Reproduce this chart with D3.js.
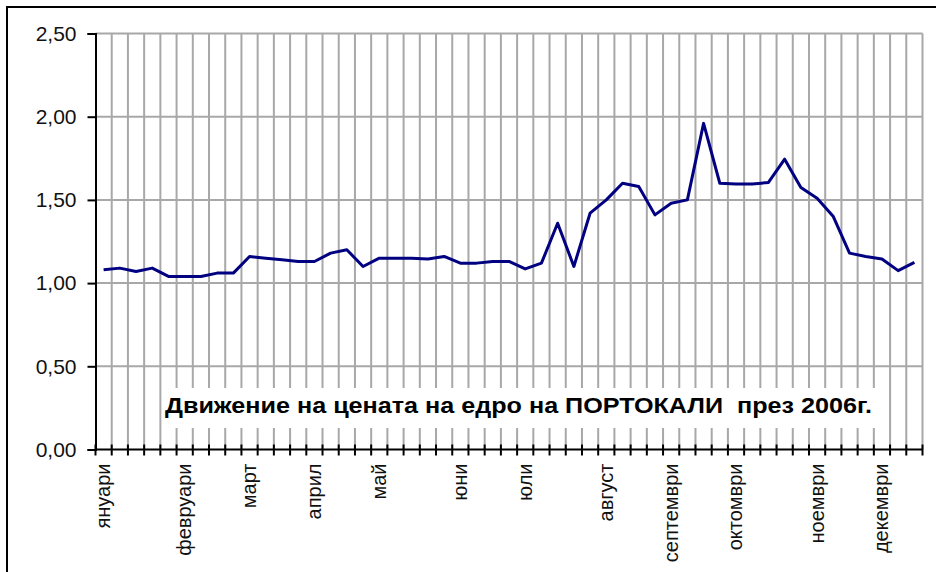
<!DOCTYPE html>
<html>
<head>
<meta charset="utf-8">
<script src="https://cdn.jsdelivr.net/npm/d3@7"></script>
<style>
  html, body { margin: 0; padding: 0; background: #fff; }
  svg { display: block; }
  text { font-family: "Liberation Sans", Arial, sans-serif; }
</style>
</head>
<body>
<svg id="chart" width="936" height="572"></svg>
<script>
// ---- data ----
const categories = [
  "януари","","","","","февруари","","","","март","","","","април","","","","май","","","","","юни","","","","юли","","","","","август","","","","септември","","","","октомври","","","","","ноември","","","","декември","",""
];
const prices = [
  1.08, 1.09, 1.07, 1.09, 1.04, 1.04, 1.04, 1.06, 1.06, 1.16,
  1.15, 1.14, 1.13, 1.13, 1.18, 1.20, 1.10, 1.15, 1.15, 1.15,
  1.145, 1.16, 1.12, 1.12, 1.13, 1.13, 1.085, 1.12, 1.36, 1.10,
  1.42, 1.50, 1.60, 1.58, 1.41, 1.48, 1.50, 1.96, 1.60, 1.595,
  1.595, 1.605, 1.745, 1.575, 1.51, 1.40, 1.18, 1.16, 1.145, 1.075,
  1.125
];
const yTicks = [0, 0.5, 1.0, 1.5, 2.0, 2.5];
const title = "Движение на цената на едро на ПОРТОКАЛИ  през 2006г.";

// ---- layout ----
const svg = d3.select("#chart");
const X0 = 95.5, X1 = 922.5, Y0 = 449.5, Y1 = 33.5;
const idx = d3.range(categories.length);

const band = d3.scaleBand().domain(idx).range([X0, X1]).padding(0);
const x = d3.scalePoint().domain(idx).range([X0, X1]).padding(0.5);
const y = d3.scaleLinear().domain([0, 2.5]).range([Y0, Y1]);

// background
svg.append("rect").attr("x", 0).attr("y", 0).attr("width", 936).attr("height", 572).attr("fill", "#fff");

// outer frame (top & left only visible)
svg.append("path")
  .attr("d", `M7,572 L7,7 L936,7`)
  .attr("fill", "none").attr("stroke", "#000").attr("stroke-width", 2);

const gridColor = "#a8a8a8";
// vertical gridlines at category boundaries
const bounds = idx.map(i => band(i)).concat([X1]);
svg.append("g").selectAll("line").data(bounds.slice(1)).join("line")
  .attr("x1", d => d).attr("x2", d => d)
  .attr("y1", Y1).attr("y2", Y0)
  .attr("stroke", gridColor).attr("stroke-width", 2);
// horizontal gridlines
svg.append("g").selectAll("line").data(yTicks.filter(t => t > 0)).join("line")
  .attr("x1", X0).attr("x2", X1)
  .attr("y1", d => y(d)).attr("y2", d => y(d))
  .attr("stroke", gridColor).attr("stroke-width", 2);

// title box
const tb = svg.append("g");
tb.append("rect").attr("x", 162).attr("y", 388).attr("width", 718).attr("height", 40).attr("fill", "#fff");
tb.append("text")
  .attr("x", 165).attr("y", 413)
  .attr("font-size", 22).attr("font-weight", "bold")
  .attr("fill", "#000")
  .attr("textLength", 707).attr("lengthAdjust", "spacingAndGlyphs")
  .style("white-space", "pre")
  .text(title);

// y axis
const yAxis = d3.axisLeft(y).tickValues(yTicks).tickSize(8).tickPadding(11)
  .tickFormat(d => d3.format(".2f")(d).replace(".", ","));
const gy = svg.append("g").attr("transform", `translate(${X0},0)`).call(yAxis);
gy.select(".domain").attr("stroke", "#000").attr("stroke-width", 2);
gy.selectAll(".tick line").attr("stroke", "#000").attr("stroke-width", 2);
gy.selectAll(".tick text").attr("font-size", 21).attr("fill", "#111")
  .attr("font-family", "'Liberation Sans', Arial, sans-serif");

// x axis line + crossing ticks
const gx = svg.append("g");
gx.append("line").attr("x1", X0).attr("x2", X1).attr("y1", Y0).attr("y2", Y0)
  .attr("stroke", "#000").attr("stroke-width", 2);
gx.selectAll("line.tk").data(bounds).join("line").attr("class", "tk")
  .attr("x1", d => d).attr("x2", d => d)
  .attr("y1", Y0 - 5).attr("y2", Y0 + 6)
  .attr("stroke", "#000").attr("stroke-width", 2);
// category labels, rotated
gx.selectAll("text").data(idx.filter(i => categories[i] !== "")).join("text")
  .attr("transform", i => `translate(${x(i)},${Y0 + 14}) rotate(-90)`)
  .attr("text-anchor", "end")
  .attr("dy", "0.32em")
  .attr("font-size", 20)
  .attr("fill", "#111")
  .text(i => categories[i]);

// price line
const line = d3.line().x((d, i) => x(i)).y(d => y(d));
svg.append("path").datum(prices)
  .attr("d", line)
  .attr("fill", "none")
  .attr("stroke", "#000080")
  .attr("stroke-width", 3)
  .attr("stroke-linejoin", "round");
</script>
</body>
</html>
